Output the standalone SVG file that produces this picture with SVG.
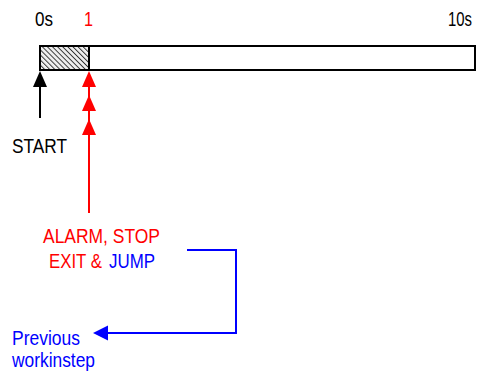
<svg xmlns="http://www.w3.org/2000/svg" width="480" height="376" viewBox="0 0 480 376">
<style>
text{font-family:"Liberation Sans",Arial,sans-serif;font-size:20.5px}
.blk{fill:#000}
.red{fill:#ff0000}
.blu{fill:#0000ff}
</style>
<defs>
<pattern id="hatch" patternUnits="userSpaceOnUse" width="3.6" height="3.6" patternTransform="rotate(-45)">
<rect width="3.6" height="3.6" fill="#f0f0f0"/>
<line x1="0" y1="0" x2="0" y2="3.6" stroke="#333" stroke-width="1.9"/>
</pattern>
</defs>
<rect width="480" height="376" fill="#fff"/>
<g id="timeline">
<rect x="40" y="46" width="435" height="24" fill="#fff" stroke="#000" stroke-width="2"/>
<rect x="40" y="46" width="49" height="24" fill="url(#hatch)" stroke="#000" stroke-width="2"/>
</g>
<g id="labels-top">
<text x="35" y="26" class="blk" textLength="18" lengthAdjust="spacingAndGlyphs">0s</text>
<text x="84" y="26" class="red" textLength="9" lengthAdjust="spacingAndGlyphs">1</text>
<text x="448" y="26" class="blk" textLength="24" lengthAdjust="spacingAndGlyphs">10s</text>
</g>
<g id="start">
<text x="12" y="153" class="blk" textLength="55" lengthAdjust="spacingAndGlyphs">START</text>
</g>
<g id="events">
<text x="43" y="243" class="red" textLength="117" lengthAdjust="spacingAndGlyphs">ALARM, STOP</text>
<text x="49" y="268" class="red" textLength="53" lengthAdjust="spacingAndGlyphs">EXIT &amp;</text>
<text x="109" y="268" class="blu" textLength="46" lengthAdjust="spacingAndGlyphs">JUMP</text>
</g>
<g id="previous">
<text x="12" y="345" class="blu" textLength="68" lengthAdjust="spacingAndGlyphs">Previous</text>
<text x="12" y="367" class="blu" textLength="83" lengthAdjust="spacingAndGlyphs">workinstep</text>
</g>
<g id="connectors">
<line x1="40" y1="86" x2="40" y2="118" stroke="#000" stroke-width="2"/>
<polygon points="40,71 33,87 47,87" fill="#000"/>
<line x1="89" y1="86" x2="89" y2="213" stroke="#ff0000" stroke-width="2"/>
<polygon points="89,71 82,87 96,87" fill="#ff0000"/>
<polygon points="89,95 82,111 96,111" fill="#ff0000"/>
<polygon points="89,119 82,135 96,135" fill="#ff0000"/>
<polyline points="187,250 236,250 236,333 106,333" fill="none" stroke="#0000ff" stroke-width="2"/>
<polygon points="93,333 108,325.5 108,340.5" fill="#0000ff"/>
</g>
</svg>
